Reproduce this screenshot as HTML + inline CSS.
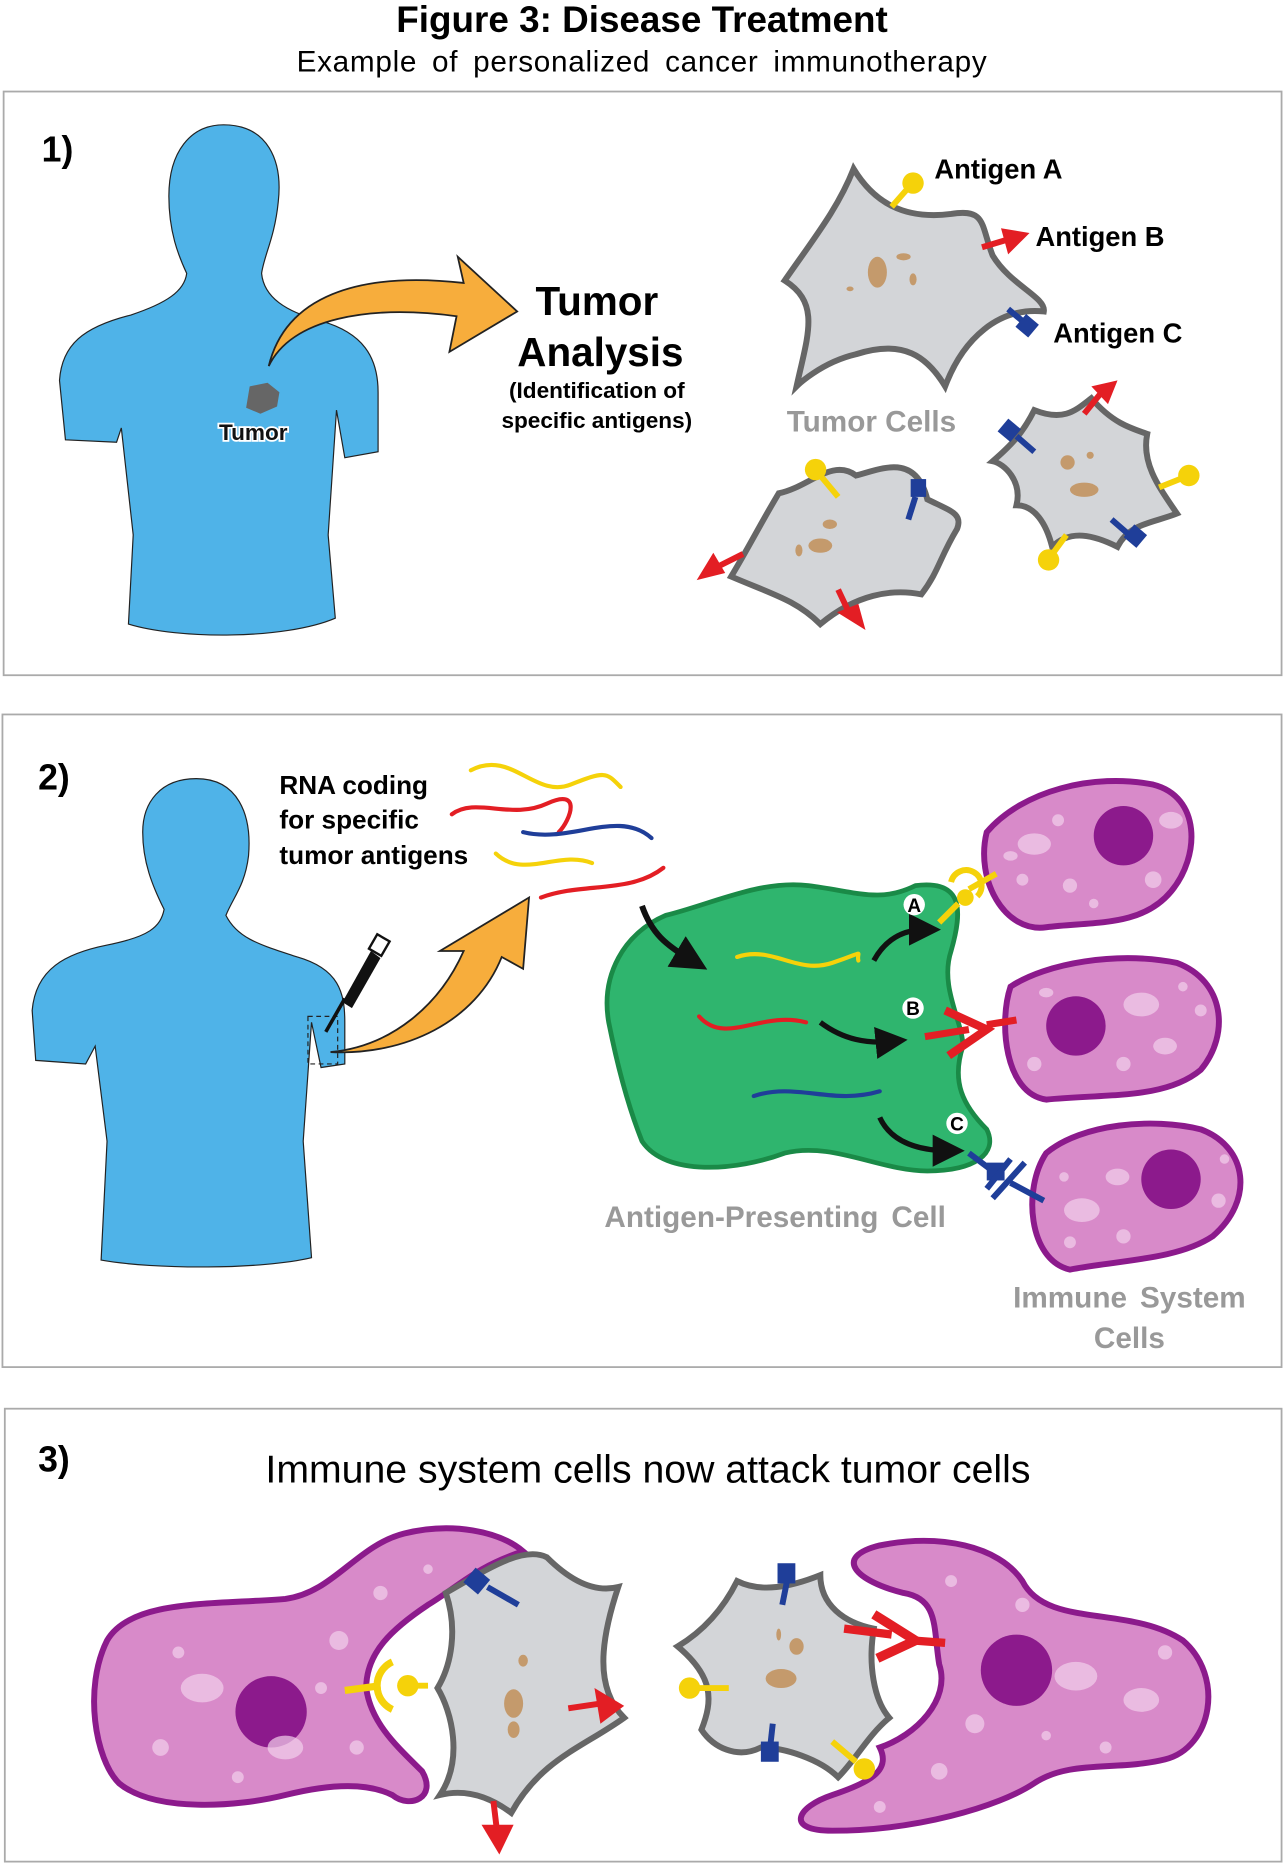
<!DOCTYPE html>
<html><head><meta charset="utf-8"><style>
html,body{margin:0;padding:0;background:#fff}
svg{display:block}
text{font-family:"Liberation Sans",Arial,sans-serif}
</style></head><body>
<svg width="1284" height="1864" viewBox="0 0 1080 1568" xmlns="http://www.w3.org/2000/svg">
<defs>
<marker id="ah" markerWidth="6" markerHeight="6" refX="3" refY="3" orient="auto" markerUnits="strokeWidth"><path d="M0,0L6,3L0,6z" fill="#111"/></marker>
</defs>
<text x="540" y="27" text-anchor="middle" font-size="31" font-weight="bold">Figure 3: Disease Treatment</text>
<text x="540" y="60" text-anchor="middle" font-size="25" word-spacing="5" letter-spacing="0.6">Example of personalized cancer immunotherapy</text>

<rect x="3" y="77" width="1075" height="491" fill="#fff" stroke="#aaa" stroke-width="1.5"/>
<rect x="2" y="601" width="1076" height="549" fill="#fff" stroke="#aaa" stroke-width="1.5"/>
<rect x="4" y="1185" width="1074" height="381" fill="#fff" stroke="#aaa" stroke-width="1.5"/>
<text x="35" y="136" font-size="30" font-weight="bold">1)</text>
<text x="32" y="664" font-size="30" font-weight="bold">2)</text>
<text x="32" y="1238" font-size="30" font-weight="bold">3)</text>

<!-- Panel1 body -->
<path d="M188,105 C225,105 238,135 234,170 C231,200 222,215 220,230 C222,250 240,262 270,270 C305,280 318,300 318,330 L318,380 L290,385 L283,345 L276,450 L282,520 C240,538 150,538 108,525 L112,450 L102,360 L98,372 L55,370 L50,320 C52,290 70,275 110,265 C140,255 155,245 157,230 C150,215 142,195 142,165 C142,128 160,105 188,105Z" fill="#4fb3e8" stroke="#222" stroke-width="1"/>
<path d="M210,325 l15,-3 10,8 -2,12 -14,6 -12,-5z" fill="#666"/>
<text x="213" y="370" text-anchor="middle" font-size="19" font-weight="bold" fill="#111" stroke="#fff" stroke-width="3" paint-order="stroke">Tumor</text>
<path d="M226,308 C240,250 300,228 390,238 L385,216 L435,262 L378,296 L384,266 C310,256 245,268 226,308Z" fill="#f7ad3c" stroke="#222" stroke-width="1.5"/>
<text x="502" y="265" text-anchor="middle" font-size="34" font-weight="bold">Tumor</text>
<text x="505" y="308" text-anchor="middle" font-size="34" font-weight="bold">Analysis</text>
<text x="502" y="335" text-anchor="middle" font-size="19" font-weight="bold">(Identification of</text>
<text x="502" y="360" text-anchor="middle" font-size="19" font-weight="bold">specific antigens)</text>

<path d="M718,142 C735,170 760,185 800,180 C830,175 825,190 835,215 C850,240 880,250 878,262 C840,258 810,285 795,325 C780,300 760,285 720,298 C690,305 670,325 670,325 C680,280 690,255 660,236 C685,200 705,175 718,142Z" fill="#d3d5d8" stroke="#666" stroke-width="5"/>
<ellipse cx="738" cy="229" rx="8" ry="13" fill="#c49a6c"/><ellipse cx="760" cy="216" rx="6" ry="3" fill="#c49a6c"/><ellipse cx="768" cy="235" rx="3" ry="5" fill="#c49a6c"/><ellipse cx="715" cy="243" rx="3" ry="2" fill="#c49a6c"/>
<line x1="750" y1="174" x2="764" y2="158" stroke="#f5d20a" stroke-width="5"/><circle cx="768" cy="154" r="9" fill="#f5d20a"/>
<line x1="826" y1="208" x2="846" y2="202" stroke="#e31e24" stroke-width="5"/><path d="M842,192 L866,196 L848,214z" fill="#e31e24"/>
<line x1="848" y1="260" x2="860" y2="270" stroke="#1f3e99" stroke-width="5"/><rect x="857" y="267" width="14" height="14" fill="#1f3e99" transform="rotate(40 864 274)"/>
<text x="786" y="150" font-size="23" font-weight="bold">Antigen A</text>
<text x="871" y="207" font-size="23" font-weight="bold">Antigen B</text>
<text x="886" y="288" font-size="23" font-weight="bold">Antigen C</text>
<text x="733" y="363" text-anchor="middle" font-size="25" font-weight="bold" fill="#999">Tumor Cells</text>
<path d="M655,415 C680,410 700,385 720,400 C740,395 770,380 780,420 C800,430 810,432 805,445 C790,470 790,480 775,500 C750,495 720,500 690,525 C670,505 650,500 615,485 C630,460 640,440 655,415Z" fill="#d3d5d8" stroke="#666" stroke-width="5"/>
<ellipse cx="690" cy="459" rx="10" ry="6" fill="#c49a6c"/><ellipse cx="698" cy="441" rx="6" ry="4" fill="#c49a6c"/><ellipse cx="672" cy="463" rx="3" ry="5" fill="#c49a6c"/>
<line x1="705" y1="418" x2="690" y2="400" stroke="#f5d20a" stroke-width="5"/><circle cx="686" cy="395" r="9" fill="#f5d20a"/>
<line x1="764" y1="437" x2="770" y2="418" stroke="#1f3e99" stroke-width="5"/><rect x="766" y="403" width="13" height="15" fill="#1f3e99"/>
<line x1="625" y1="466" x2="605" y2="476" stroke="#e31e24" stroke-width="5"/><path d="M586,488 L600,465 L610,482z" fill="#e31e24"/>
<line x1="705" y1="496" x2="714" y2="515" stroke="#e31e24" stroke-width="5"/><path d="M704,515 L728,530 L722,508z" fill="#e31e24"/>
<path d="M870,345 C895,355 905,345 918,335 C935,355 950,360 965,365 C960,390 975,410 990,432 C970,440 950,440 940,460 C920,450 900,445 885,460 C880,440 870,425 855,425 C860,405 845,390 835,388 C850,375 860,365 870,345Z" fill="#d3d5d8" stroke="#666" stroke-width="5"/>
<ellipse cx="912" cy="412" rx="12" ry="6" fill="#c49a6c"/><ellipse cx="898" cy="389" rx="6" ry="6" fill="#c49a6c"/><ellipse cx="917" cy="383" rx="3" ry="3" fill="#c49a6c"/>
<line x1="912" y1="348" x2="925" y2="332" stroke="#e31e24" stroke-width="5"/><path d="M918,325 L940,320 L932,340z" fill="#e31e24"/>
<line x1="870" y1="380" x2="855" y2="367" stroke="#1f3e99" stroke-width="5"/><rect x="842" y="355" width="14" height="14" fill="#1f3e99" transform="rotate(40 849 362)"/>
<line x1="975" y1="410" x2="995" y2="402" stroke="#f5d20a" stroke-width="5"/><circle cx="1000" cy="400" r="9" fill="#f5d20a"/>
<line x1="935" y1="437" x2="950" y2="450" stroke="#1f3e99" stroke-width="5"/><rect x="948" y="444" width="14" height="14" fill="#1f3e99" transform="rotate(40 955 451)"/>
<line x1="897" y1="450" x2="886" y2="465" stroke="#f5d20a" stroke-width="5"/><circle cx="882" cy="471" r="9" fill="#f5d20a"/>

<!-- Panel2 body -->
<path d="M165,655 C200,655 212,685 209,720 C206,745 196,755 190,770 C200,790 220,795 250,805 C285,815 290,835 290,860 L290,895 L270,898 L262,860 L255,960 L262,1058 C220,1068 130,1068 85,1060 L90,960 L80,880 L72,895 L30,892 L27,850 C30,815 55,802 90,795 C125,788 135,780 138,765 C128,745 120,725 120,700 C120,675 135,655 165,655Z" fill="#4fb3e8" stroke="#222" stroke-width="1"/>
<rect x="259" y="855" width="25" height="40" fill="none" stroke="#222" stroke-dasharray="4,3"/>
<line x1="274" y1="868" x2="290" y2="840" stroke="#111" stroke-width="3"/>
<path d="M288,843 L312,800 L320,806 L296,848z" fill="#111"/>
<rect x="313" y="788" width="12" height="14" fill="#fff" stroke="#111" stroke-width="2" transform="rotate(30 319 795)"/>
<path d="M278,885 C330,880 370,845 390,800 L370,800 L445,755 L440,815 L422,805 C400,860 340,888 278,885Z" fill="#f7ad3c" stroke="#222" stroke-width="1.5"/>
<text x="235" y="668" font-size="22" font-weight="bold">RNA coding</text>
<text x="235" y="697" font-size="22" font-weight="bold">for specific</text>
<text x="235" y="727" font-size="22" font-weight="bold">tumor antigens</text>
<g fill="none" stroke-width="3.5" stroke-linecap="round">
<path d="M396,648 C430,630 450,672 480,660 S510,650 522,662" stroke="#f5d20a"/>
<path d="M380,685 C400,670 430,690 460,676 S480,690 470,700" stroke="#e31e24"/>
<path d="M440,700 C480,710 520,680 548,705" stroke="#1f3e99"/>
<path d="M417,718 C440,740 470,715 498,726" stroke="#f5d20a"/>
<path d="M455,755 C490,742 530,752 558,730" stroke="#e31e24"/>
</g>
<path d="M560,770 C600,760 640,740 680,745 C720,750 740,760 770,745 C810,740 810,765 800,800 C790,830 810,860 810,880 C800,910 810,930 830,950 C840,970 820,985 780,985 C740,985 700,960 660,970 C620,985 560,990 540,960 C530,935 520,900 512,860 C505,820 525,785 560,770Z" fill="#2fb56e" stroke="#1a8a47" stroke-width="4"/>
<path d="M540,762 C548,785 560,795 582,808" fill="none" stroke="#111" stroke-width="5" marker-end="url(#ah)"/>
<g fill="none" stroke-width="3.5" stroke-linecap="round">
<path d="M620,805 C650,795 670,820 700,810 S720,800 722,808" stroke="#f5d20a"/>
<path d="M588,855 C610,880 640,850 678,860" stroke="#e31e24"/>
<path d="M634,922 C670,910 700,930 740,918" stroke="#1f3e99"/>
</g>
<g fill="none" stroke="#111" stroke-width="4.5">
<path d="M735,808 C745,790 760,782 778,782" marker-end="url(#ah)"/>
<path d="M690,860 C710,875 730,878 750,876" marker-end="url(#ah)"/>
<path d="M740,940 C750,962 775,968 798,968" marker-end="url(#ah)"/>
</g>
<g font-size="16" font-weight="bold" text-anchor="middle">
<circle cx="769" cy="761" r="9" fill="#fff"/><text x="769" y="767">A</text>
<circle cx="768" cy="848" r="9" fill="#fff"/><text x="768" y="854">B</text>
<circle cx="805" cy="945" r="9" fill="#fff"/><text x="805" y="951">C</text>
</g>
<text x="652" y="1032" text-anchor="middle" font-size="25" font-weight="bold" fill="#999" word-spacing="4">Antigen-Presenting Cell</text>
<g fill="#d88ac9" stroke="#8c1a8c" stroke-width="5">
<path d="M830,700 C860,665 920,650 970,660 C1010,670 1010,720 985,750 C960,780 920,775 880,780 C845,785 820,740 830,700Z"/>
<path d="M850,830 C880,810 940,800 990,810 C1030,825 1035,870 1010,900 C980,925 930,920 880,925 C845,920 840,860 850,830Z"/>
<path d="M880,970 C910,945 970,940 1010,950 C1050,965 1055,1010 1020,1040 C990,1060 940,1060 900,1068 C865,1060 860,1000 880,970Z"/>
</g>
<g fill="#8c1a8c"><circle cx="945" cy="703" r="25"/><circle cx="905" cy="863" r="25"/><circle cx="985" cy="992" r="25"/></g>
<g fill="#f3d0ec" opacity="0.7">
<ellipse cx="870" cy="710" rx="14" ry="9"/><ellipse cx="985" cy="690" rx="10" ry="7"/><circle cx="900" cy="745" r="6"/><circle cx="860" cy="740" r="5"/><circle cx="970" cy="740" r="7"/><circle cx="890" cy="690" r="5"/><circle cx="920" cy="760" r="4"/><ellipse cx="850" cy="720" rx="6" ry="4"/>
<ellipse cx="960" cy="845" rx="15" ry="10"/><ellipse cx="980" cy="880" rx="10" ry="7"/><circle cx="870" cy="895" r="6"/><circle cx="1010" cy="850" r="5"/><circle cx="945" cy="895" r="6"/><circle cx="995" cy="830" r="4"/><ellipse cx="880" cy="835" rx="6" ry="4"/>
<ellipse cx="910" cy="1018" rx="15" ry="10"/><ellipse cx="940" cy="990" rx="10" ry="7"/><circle cx="1025" cy="1010" r="6"/><circle cx="900" cy="1045" r="5"/><circle cx="945" cy="1040" r="6"/><circle cx="895" cy="990" r="4"/><circle cx="1030" cy="975" r="4"/>
</g>
<line x1="838" y1="735" x2="815" y2="748" stroke="#f5d20a" stroke-width="5"/>
<path d="M800,742 a13,13 0 1 1 22,12" fill="none" stroke="#f5d20a" stroke-width="5"/>
<circle cx="812" cy="755" r="7" fill="#f5d20a"/><line x1="806" y1="760" x2="790" y2="776" stroke="#f5d20a" stroke-width="5"/>
<line x1="778" y1="872" x2="815" y2="866" stroke="#e31e24" stroke-width="6"/>
<path d="M795,850 L830,866 L798,888" fill="none" stroke="#e31e24" stroke-width="7"/>
<line x1="830" y1="862" x2="855" y2="858" stroke="#e31e24" stroke-width="6"/>
<line x1="815" y1="970" x2="835" y2="985" stroke="#1f3e99" stroke-width="5"/>
<rect x="830" y="978" width="15" height="15" fill="#1f3e99"/>
<path d="M830,1000 L850,975 M835,1008 L862,978 M850,995 L878,1010" stroke="#1f3e99" stroke-width="5" fill="none"/>
<text x="950" y="1100" text-anchor="middle" font-size="25" font-weight="bold" fill="#999" word-spacing="4">Immune System</text>
<text x="950" y="1134" text-anchor="middle" font-size="25" font-weight="bold" fill="#999">Cells</text>

<!-- Panel3 -->
<text x="545" y="1247" text-anchor="middle" font-size="33">Immune system cells now attack tumor cells</text>
<path d="M440,1305 C420,1288 380,1280 340,1290 C300,1300 280,1340 240,1345 C180,1350 110,1345 90,1380 C70,1420 80,1480 100,1500 C130,1525 200,1520 240,1510 C280,1500 310,1500 330,1510 C345,1522 368,1512 355,1490 C335,1470 312,1450 308,1420 C308,1390 330,1370 360,1350 C385,1335 400,1318 440,1305Z" fill="#d88ac9" stroke="#8c1a8c" stroke-width="5"/>
<circle cx="228" cy="1440" r="30" fill="#8c1a8c"/>
<path d="M760,1340 C720,1330 700,1310 740,1300 C790,1290 840,1300 860,1330 C880,1370 950,1350 995,1380 C1030,1410 1020,1470 980,1480 C940,1490 900,1480 870,1500 C840,1520 770,1540 700,1540 C660,1540 670,1520 700,1510 C730,1500 750,1490 740,1470 C770,1460 800,1430 790,1400 C785,1370 790,1345 760,1340Z" fill="#d88ac9" stroke="#8c1a8c" stroke-width="5"/>
<circle cx="855" cy="1405" r="30" fill="#8c1a8c"/>
<g fill="#f3d0ec" opacity="0.7">
<ellipse cx="170" cy="1420" rx="18" ry="12"/><ellipse cx="240" cy="1470" rx="15" ry="10"/><circle cx="285" cy="1380" r="8"/><circle cx="135" cy="1470" r="7"/><circle cx="300" cy="1470" r="6"/><circle cx="320" cy="1340" r="6"/><circle cx="150" cy="1390" r="5"/><circle cx="270" cy="1420" r="5"/><circle cx="200" cy="1495" r="5"/><circle cx="360" cy="1320" r="4"/>
<ellipse cx="905" cy="1410" rx="18" ry="12"/><ellipse cx="960" cy="1430" rx="15" ry="10"/><circle cx="820" cy="1450" r="8"/><circle cx="790" cy="1490" r="7"/><circle cx="980" cy="1390" r="6"/><circle cx="860" cy="1350" r="6"/><circle cx="800" cy="1330" r="5"/><circle cx="930" cy="1470" r="5"/><circle cx="740" cy="1520" r="5"/><circle cx="880" cy="1460" r="4"/>
</g>
<path d="M375,1340 C410,1320 440,1300 460,1310 C480,1330 500,1340 520,1335 C505,1380 500,1420 525,1445 C490,1470 455,1480 430,1525 C410,1510 390,1505 370,1510 C390,1480 380,1440 368,1420 C380,1400 385,1370 375,1340Z" fill="#d3d5d8" stroke="#666" stroke-width="5"/>
<ellipse cx="432" cy="1433" rx="8" ry="12" fill="#c49a6c"/><ellipse cx="440" cy="1397" rx="4" ry="5" fill="#c49a6c"/><ellipse cx="432" cy="1455" rx="5" ry="7" fill="#c49a6c"/>
<line x1="436" y1="1350" x2="410" y2="1335" stroke="#1f3e99" stroke-width="5"/><rect x="393" y="1322" width="16" height="16" fill="#1f3e99" transform="rotate(40 401 1330)"/>
<line x1="478" y1="1437" x2="505" y2="1433" stroke="#e31e24" stroke-width="5"/><path d="M500,1420 L525,1435 L505,1450z" fill="#e31e24"/>
<line x1="415" y1="1515" x2="418" y2="1540" stroke="#e31e24" stroke-width="5"/><path d="M405,1535 L420,1560 L432,1535z" fill="#e31e24"/>
<line x1="335" y1="1418" x2="360" y2="1418" stroke="#f5d20a" stroke-width="5"/><circle cx="343" cy="1418" r="9" fill="#f5d20a"/>
<path d="M330,1398 a22,22 0 0 0 0,40" fill="none" stroke="#f5d20a" stroke-width="6"/>
<line x1="290" y1="1422" x2="320" y2="1418" stroke="#f5d20a" stroke-width="6"/>
<path d="M620,1330 C640,1340 665,1335 690,1325 C690,1350 710,1365 735,1370 C730,1400 735,1430 748,1445 C730,1460 720,1480 705,1495 C690,1480 660,1470 640,1470 C620,1480 600,1470 590,1455 C600,1430 600,1410 570,1385 C595,1370 610,1350 620,1330Z" fill="#d3d5d8" stroke="#666" stroke-width="5"/>
<ellipse cx="657" cy="1412" rx="13" ry="8" fill="#c49a6c"/><ellipse cx="670" cy="1385" rx="6" ry="7" fill="#c49a6c"/><ellipse cx="655" cy="1375" rx="2" ry="5" fill="#c49a6c"/>
<line x1="658" y1="1350" x2="662" y2="1330" stroke="#1f3e99" stroke-width="5"/><rect x="654" y="1315" width="15" height="17" fill="#1f3e99"/>
<line x1="613" y1="1420" x2="585" y2="1420" stroke="#f5d20a" stroke-width="5"/><circle cx="580" cy="1420" r="9" fill="#f5d20a"/>
<line x1="650" y1="1450" x2="648" y2="1468" stroke="#1f3e99" stroke-width="5"/><rect x="640" y="1465" width="15" height="17" fill="#1f3e99"/>
<line x1="700" y1="1465" x2="720" y2="1482" stroke="#f5d20a" stroke-width="5"/><circle cx="727" cy="1488" r="9" fill="#f5d20a"/>
<line x1="710" y1="1370" x2="750" y2="1375" stroke="#e31e24" stroke-width="7"/>
<path d="M735,1358 L770,1380 L738,1395" fill="none" stroke="#e31e24" stroke-width="8"/>
<line x1="768" y1="1380" x2="795" y2="1382" stroke="#e31e24" stroke-width="7"/>
</svg>
</body></html>
